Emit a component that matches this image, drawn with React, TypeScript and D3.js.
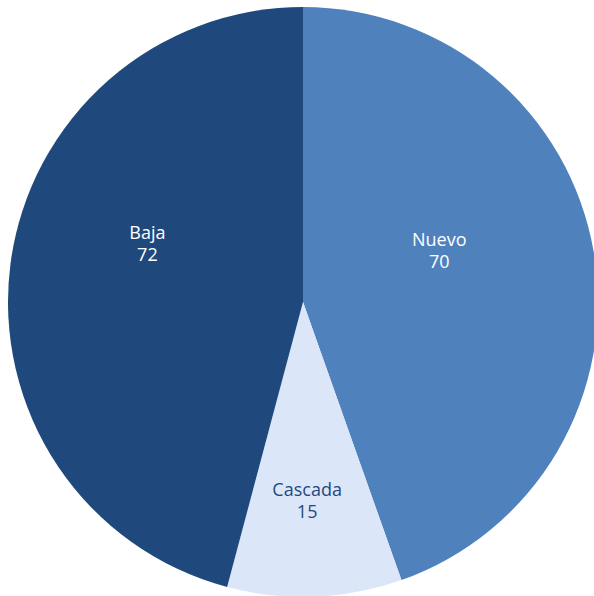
import React from "react";
import * as d3 from "d3";

const categories = ["Nuevo", "Cascada", "Baja"];
const values = [70, 15, 72];
const colors = ["#4F81BD", "#DCE6F9", "#1F497D"];
const textColors = ["#FFFFFF", "#1F497D", "#FFFFFF"];

// label placement (Excel puts them a bit off the centroid)
const labelShiftDeg = [-11, 1.1, 13];
const labelRadiusFrac = [0.494, 0.673, 0.563];

const width = 594;
const height = 596;
const cx = 303;
const cy = 302;
const radius = 295;

export default function App(): JSX.Element {
  const pie = d3
    .pie<number>()
    .sort(null)
    .value((d) => d);
  const arcs = pie(values);
  const arc = d3.arc<d3.PieArcDatum<number>>().innerRadius(0).outerRadius(radius);

  return (
    <svg
      width={width}
      height={height}
      style={{ position: "absolute", left: 0, top: 0, background: "#fff" }}
    >
      <g transform={`translate(${cx},${cy})`}>
        {arcs.map((a, i) => (
          <path key={categories[i]} d={arc(a) ?? ""} fill={colors[i]} />
        ))}
        {arcs.map((a, i) => {
          const mid = (a.startAngle + a.endAngle) / 2 + (labelShiftDeg[i] * Math.PI) / 180;
          const r = radius * labelRadiusFrac[i];
          const x = Math.sin(mid) * r;
          const y = -Math.cos(mid) * r;
          return (
            <text
              key={"l" + categories[i]}
              x={x}
              y={y}
              textAnchor="middle"
              fontFamily="'Open Sans', sans-serif"
              fontSize={18}
              fill={textColors[i]}
            >
              <tspan x={x} dy={-4.5}>
                {categories[i]}
              </tspan>
              <tspan x={x} dy={22}>
                {values[i]}
              </tspan>
            </text>
          );
        })}
      </g>
    </svg>
  );
}
